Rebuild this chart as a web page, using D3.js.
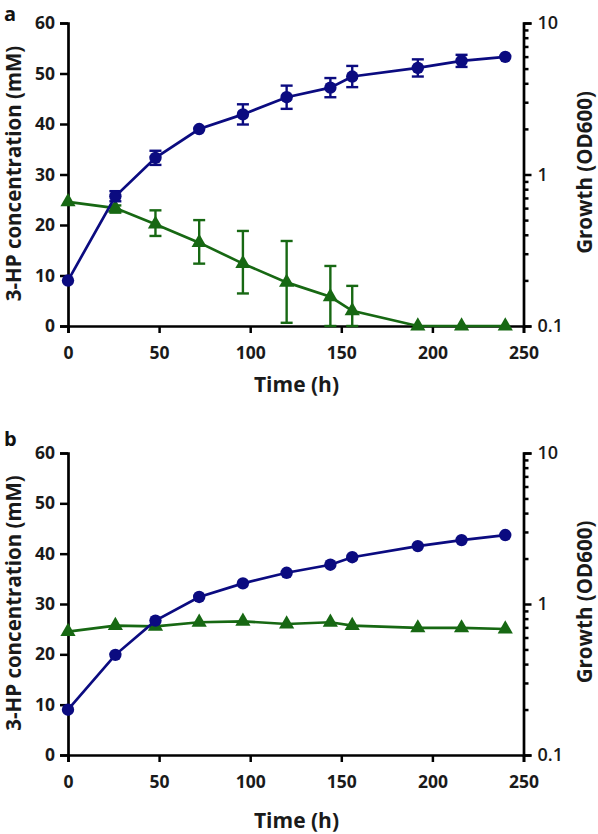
<!DOCTYPE html>
<html><head><meta charset="utf-8">
<script src="https://cdn.jsdelivr.net/npm/d3@7"></script>
<style>body{margin:0;background:#fff}svg{display:block}</style>
</head><body><svg id="c" width="598" height="834"></svg>
<script>
const times = [0, 26, 48, 72, 96, 120, 144, 156, 192, 216, 240];
// Panel a
const hpA = [9.0, 25.7, 33.3, 39.0, 41.9, 45.3, 47.2, 49.4, 51.1, 52.5, 53.3];
const hpA_err = [0, 1.0, 1.4, 0, 2.0, 2.3, 1.9, 2.1, 1.7, 1.2, 0];
const odA = [0.66, 0.60, 0.47, 0.355, 0.258, 0.194, 0.156, 0.126, 0.1, 0.1, 0.1];
const odA_lo = [null, 0.56, 0.393, 0.258, 0.164, 0.105, 0.1, 0.1, null, null, null];
const odA_hi = [null, 0.625, 0.58, 0.50, 0.424, 0.364, 0.249, 0.184, null, null, null];
// Panel b
const hpB = [9.0, 19.9, 26.7, 31.4, 34.1, 36.2, 37.8, 39.3, 41.5, 42.7, 43.7];
const odB = [0.656, 0.719, 0.712, 0.757, 0.768, 0.737, 0.757, 0.719, 0.694, 0.694, 0.683];

const xTicks = [0, 50, 100, 150, 200, 250];
const yTicks = [0, 10, 20, 30, 40, 50, 60];
const logTicks = [0.1, 1, 10];

const BLUE = "#0b0b80", GREEN = "#176813";
const FONT = "'Open Sans', 'Noto Sans', sans-serif";
const svg = d3.select("#c");

function panel(label, top, bottom, titleOff, labelY, hp, hpErr, od, odLo, odHi) {
  const g = svg.append("g");
  const x = d3.scaleLinear().domain([0, 250]).range([68, 523.5]);
  const y = d3.scaleLinear().domain([0, 60]).range([bottom, top]);
  const yl = d3.scaleLog().domain([0.1, 10]).range([bottom, top]);

  // axes
  const ax = g.append("g").attr("transform", `translate(0,${bottom})`)
    .call(d3.axisBottom(x).tickValues(xTicks).tickSize(7).tickPadding(14).tickFormat(d3.format("d")));
  const ay = g.append("g").attr("transform", `translate(68,0)`)
    .call(d3.axisLeft(y).tickValues(yTicks).tickSize(8).tickPadding(5));
  const minor = [];
  [0.1, 1].forEach(b => { for (let k = 2; k <= 9; k++) minor.push(b * k); });
  const ar2 = g.append("g").attr("transform", `translate(523.5,0)`)
    .call(d3.axisRight(yl).tickValues(minor).tickSize(5).tickFormat(""));
  const ar = g.append("g").attr("transform", `translate(523.5,0)`)
    .call(d3.axisRight(yl).tickValues(logTicks).tickSize(8).tickPadding(6).tickFormat(d => d3.format("~g")(d)));
  [ax, ay, ar, ar2].forEach(a => {
    a.selectAll("path.domain").attr("stroke", "#000").attr("stroke-width", 2.7);
    a.selectAll(".tick line").attr("stroke", "#000").attr("stroke-width", 2.5);
    a.selectAll("text").attr("fill", "#1a1a1a").style("font-family", FONT).style("font-size", "17.5px");
  });
  ar2.select("path.domain").remove();
  ax.selectAll("text").style("font-weight", "700");
  ay.selectAll("text").style("font-weight", "700");
  ar.selectAll("text").style("font-weight", "600").style("font-size", "18px");

  // titles
  g.append("text").attr("transform", `translate(20.5,${(top + bottom) / 2 - 1}) rotate(-90)`)
    .attr("text-anchor", "middle").style("font-family", FONT).style("font-weight", "700")
    .style("font-size", "20.5px").attr("fill", "#1a1a1a").text("3-HP concentration (mM)");
  g.append("text").attr("transform", `translate(592,${(top + bottom) / 2 - 2}) rotate(-90)`)
    .attr("text-anchor", "middle").style("font-family", FONT).style("font-weight", "700")
    .style("font-size", "20.5px").attr("fill", "#1a1a1a").text("Growth (OD600)");
  g.append("text").attr("x", 296.5).attr("y", bottom + titleOff)
    .attr("text-anchor", "middle").style("font-family", FONT).style("font-weight", "700")
    .style("font-size", "21px").attr("fill", "#1a1a1a").text("Time (h)");
  g.append("text").attr("x", 4).attr("y", labelY)
    .style("font-family", FONT).style("font-weight", "700")
    .style("font-size", "20px").attr("fill", "#111").text(label);

  // green series (growth, log axis)
  const gd = times.map((t, i) => ({t, v: od[i], lo: odLo ? odLo[i] : null, hi: odHi ? odHi[i] : null}));
  const eg = g.append("g").attr("stroke", GREEN).attr("stroke-width", 2.4).attr("fill", "none");
  gd.filter(d => d.lo != null).forEach(d => {
    const X = x(d.t), y1 = yl(d.lo), y2 = yl(d.hi);
    eg.append("line").attr("x1", X).attr("x2", X).attr("y1", y1).attr("y2", y2);
    eg.append("line").attr("x1", X - 6).attr("x2", X + 6).attr("y1", y1).attr("y2", y1);
    eg.append("line").attr("x1", X - 6).attr("x2", X + 6).attr("y1", y2).attr("y2", y2);
  });
  g.append("path").datum(gd).attr("fill", "none").attr("stroke", GREEN).attr("stroke-width", 2.7)
    .attr("d", d3.line().x(d => x(d.t)).y(d => yl(d.v)));
  const tri = d3.symbol().type(d3.symbolTriangle).size(100);
  g.selectAll(null).data(gd).join("path").attr("fill", GREEN)
    .attr("transform", d => `translate(${x(d.t)},${yl(d.v)})`).attr("d", tri);

  // blue series (3-HP)
  const bd = times.map((t, i) => ({t, v: hp[i], e: hpErr ? hpErr[i] : 0}));
  const eb = g.append("g").attr("stroke", BLUE).attr("stroke-width", 2.4).attr("fill", "none");
  bd.filter(d => d.e > 0).forEach(d => {
    const X = x(d.t), y1 = y(d.v - d.e), y2 = y(d.v + d.e);
    eb.append("line").attr("x1", X).attr("x2", X).attr("y1", y1).attr("y2", y2);
    eb.append("line").attr("x1", X - 6).attr("x2", X + 6).attr("y1", y1).attr("y2", y1);
    eb.append("line").attr("x1", X - 6).attr("x2", X + 6).attr("y1", y2).attr("y2", y2);
  });
  g.append("path").datum(bd).attr("fill", "none").attr("stroke", BLUE).attr("stroke-width", 2.7)
    .attr("d", d3.line().x(d => x(d.t)).y(d => y(d.v)));
  g.selectAll(null).data(bd).join("circle").attr("fill", BLUE)
    .attr("cx", d => x(d.t)).attr("cy", d => y(d.v)).attr("r", 6.2);
}

panel("a", 23, 326, 66, 21, hpA, hpA_err, odA, odA_lo, odA_hi);
panel("b", 453, 755, 73, 446, hpB, null, odB, null, null);
</script></body></html>
